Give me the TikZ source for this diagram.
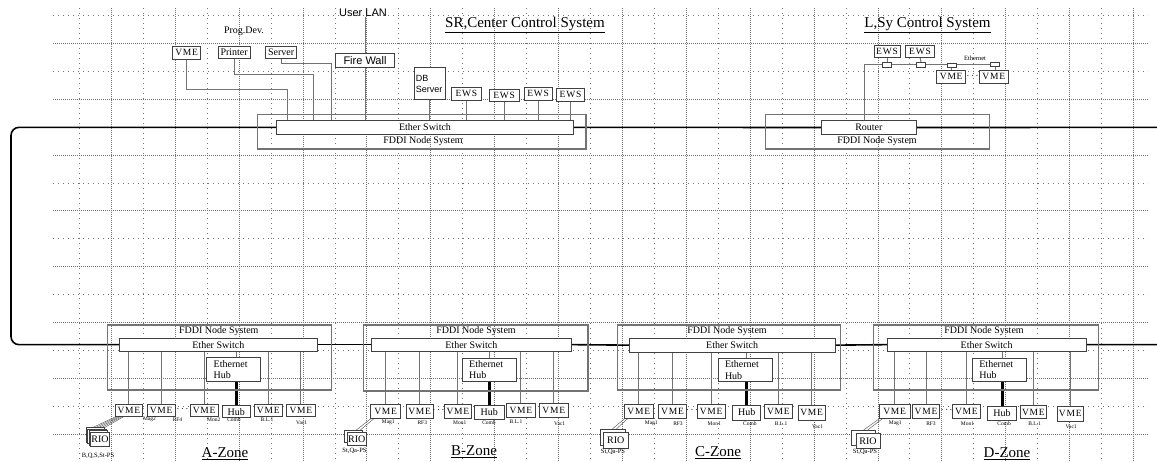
\documentclass[tikz,border=0pt]{standalone}
\usepackage{fontspec}
\setmainfont{Liberation Serif}
\newfontfamily\arialf{Liberation Sans}
\newfontfamily\spf[LetterSpace=8]{Liberation Serif}
\pgfdeclarelayer{gridlayer}
\pgfdeclarelayer{bglayer}
\pgfsetlayers{gridlayer,bglayer,main}
\tikzset{
  box/.style={draw=black!75, fill=white, line width=0.9pt, inner sep=0pt, outer sep=0pt, font=\spf\fontsize{9.5}{10}\selectfont},
  fddibox/.style={draw=black!55, fill=none, line width=1.2pt},
  trx/.style={line width=0.8pt},
  sansbox/.style={font=\arialf\fontsize{11}{12}\selectfont},
  dbbox/.style={font=\arialf\fontsize{9}{11}\selectfont, text width=27.5pt, inner xsep=1.5pt, align=left},
  ehbox/.style={font=\fontsize{10}{11.5}\selectfont, text width=40pt, inner xsep=7pt, align=left},
  plainbox/.style={font=\fontsize{10}{11}\selectfont},
  wire/.style={draw=black!55, line width=1pt},
  thinwire/.style={draw=black!60, line width=0.5pt},
  hubline/.style={draw=black, line width=3pt},
  ring/.style={draw=black, line width=1.6pt},
  lbl/.style={font=\fontsize{10}{11}\selectfont, inner sep=0pt},
  sanslbl/.style={font=\arialf\fontsize{11}{12}\selectfont, inner sep=0pt},
  tinylbl/.style={font=\fontsize{5.5}{6}\selectfont, inner sep=0pt},
  pslbl/.style={font=\fontsize{6.5}{7}\selectfont, inner sep=0pt},
  title/.style={font=\fontsize{15}{16}\selectfont, inner sep=0pt},
  dotsl/.style={font=\fontsize{10}{10}\selectfont, inner sep=0pt},
  gridD/.style={draw=black!55, line width=0.6pt, dash pattern=on 0.7pt off 1.3pt},
  gridS/.style={draw=black!55, line width=0.6pt, dash pattern=on 0.7pt off 4.3pt}
}
\newcommand{\bx}[7]{\node[box,#6,minimum width={(#4)-(#2)},minimum height={(#5)-(#3)}] (#1) at ({((#2)+(#4))/2},{((#3)+(#5))/2}) {#7};}
\begin{document}
\begin{tikzpicture}[x=1pt,y=-1pt]
\useasboundingbox (0,0) rectangle (1157,462);
% ---------- grid ----------
\begin{pgfonlayer}{gridlayer}
\fill[white] (0,0) rectangle (1157,462);
\foreach \k in {1,3,...,15} {\draw[gridD] (53,{15+27.97*\k}) -- (1148,{15+27.97*\k});}
\foreach \k in {0,2,...,14} {\draw[gridS] (53,{15+27.97*\k}) -- (1148,{15+27.97*\k});}
\foreach \i in {1,3,...,33} {\draw[gridD] ({79.3+31.94*\i},8) -- ({79.3+31.94*\i},462);}
\foreach \i in {0,2,...,32} {\draw[gridS] ({79.3+31.94*\i},8) -- ({79.3+31.94*\i},462);}
\end{pgfonlayer}

% ---------- titles ----------
\node[title] (srtitle) at (525,25) {\underline{SR,Center Control System}};
\node[title] (lsytitle) at (927.5,25) {\underline{L,Sy Control System}};

% ---------- SR center ----------
\bx{fddiSR}{257.3}{114.3}{586}{149}{fddibox}{}
\node[lbl] (fddiSRl) at (423,141.5) {FDDI Node System};
\bx{swSR}{276.7}{120.7}{573.3}{134}{plainbox}{Ether Switch}
\bx{vmeT}{172.7}{46}{200.7}{59}{}{VME}
\bx{printer}{218.3}{46}{250}{58.5}{plainbox}{Printer}
\bx{server}{265.7}{46}{296.7}{58.5}{plainbox}{Server}
\node[lbl] (progdev) at (244,31) {Prog.Dev.};
\node[sanslbl] (userlan) at (363,12.5) {User LAN};
\bx{fw}{335.7}{53.3}{394.3}{67.7}{sansbox}{Fire Wall}
\bx{db}{414.3}{67.7}{445}{99.3}{dbbox}{DB\\Server}
\bx{ews1}{451.7}{87.3}{481}{100}{}{EWS}
\bx{ews2}{489}{89}{519.3}{101.5}{}{EWS}
\bx{ews3}{524}{87.3}{552.3}{100}{}{EWS}
\bx{ews4}{556.7}{88}{584.3}{101}{}{EWS}
\begin{pgfonlayer}{bglayer}
\draw[wire] (vmeT.south) |- (287.3,89.3) -- (287.3,89.3 |- swSR.north);
\draw[wire] (printer.south) |- (313.3,74.7) -- (313.3,74.7 |- swSR.north);
\draw[wire] (server.south) |- (331.7,64) -- (331.7,64 |- swSR.north);
\draw[wire] (fw.north |- userlan.south) -- (fw.north);
\draw[wire] (fw.south) -- (fw.south |- swSR.north);
\draw[wire] (db.south) -- (db.south |- swSR.north);
\foreach \n in {ews1,ews2,ews3,ews4} {\draw[wire] (\n.south) -- (\n.south |- swSR.north);}
\end{pgfonlayer}

% ---------- L,Sy ----------
\bx{fddiL}{765.7}{114.3}{989.3}{149}{fddibox}{}
\node[lbl] (fddiLl) at (877,141.5) {FDDI Node System};
\bx{router}{821}{120.7}{916.7}{134.3}{plainbox}{Router}
\bx{ewsL1}{874}{45}{900}{57.3}{}{EWS}
\bx{ewsL2}{905.7}{45}{934.3}{57.3}{}{EWS}
\bx{vmeL1}{936.7}{70}{965.7}{83.3}{}{VME}
\bx{vmeL2}{979.3}{70}{1008.3}{83.3}{}{VME}
\bx{tr1}{882.5}{62}{891.5}{67}{trx}{}
\bx{tr2}{916.5}{62}{925.5}{67}{trx}{}
\bx{tr3}{947}{63}{956}{67.5}{trx}{}
\bx{tr4}{990.5}{62}{999.5}{66.5}{trx}{}
\node[dotsl] (dotsL) at (972.5,76) {$\cdots$};
\node[tinylbl, font=\fontsize{6.5}{7}\selectfont] (ethl) at (975,58.3) {Ethernet};
\begin{pgfonlayer}{bglayer}
\draw[wire] ([xshift=-3.9pt]router.north) |- (tr4.west);
\draw[wire] (ewsL1.south) -- (tr1.north);
\draw[wire] (ewsL2.south) -- (tr2.north);
\draw[wire] (tr3.south) -- (tr3.south |- vmeL1.north);
\draw[wire] (tr4.south) -- (tr4.south |- vmeL2.north);
\end{pgfonlayer}

% ---------- A zone ----------
\bx{fddiA}{107.7}{325}{331.7}{390}{fddibox}{}
\node[lbl] (fddiAl) at (218.8,331.5) {FDDI Node System};
\bx{swA}{119}{338.3}{317.7}{351}{plainbox}{Ether Switch}
\bx{ehA}{206.7}{357.7}{260.7}{381}{ehbox}{Ethernet\\Hub}
\bx{a1}{115}{404.3}{142.7}{416.5}{}{VME}
\bx{a2}{147.3}{404.3}{175}{416.5}{}{VME}
\bx{a3}{190}{404.3}{218.3}{416.5}{}{VME}
\bx{hubA}{222.7}{405.7}{250}{417.7}{plainbox}{Hub}
\bx{a5}{254.3}{404.3}{282.3}{416.5}{}{VME}
\bx{a6}{286.7}{404.3}{315}{416.5}{}{VME}
\node[dotsl] (dotsA) at (182.5,409.5) {$\cdots$};
\node[tinylbl] (la1) at (149.5,419.5) {Mag2};
\node[tinylbl] (la2) at (177.5,419.5) {RF4};
\node[tinylbl] (la3) at (213.7,419.5) {Mon2};
\node[tinylbl] (la4) at (234,419.5) {Comb};
\node[tinylbl] (la5) at (267,419.5) {B.L.1};
\node[tinylbl] (la6) at (301.7,423) {Vac1};
\bx{rioA3}{86.2}{427.8}{104.8}{442.2}{}{}
\bx{rioA2}{87.7}{429.3}{106.3}{443.7}{}{}
\bx{rioA1}{89.2}{430.8}{107.8}{445.2}{}{}
\bx{rioA}{90.7}{432.3}{109.3}{446.7}{plainbox}{RIO}
\node[pslbl] (psA) at (98,455.5) {B,Q,S,St-PS};
\node[title] (zA) at (225,454) {\underline{A-Zone}};
\begin{pgfonlayer}{bglayer}
\foreach \n in {a1,a2,a3,a5,a6} {\draw[wire] (\n.north) -- (\n.north |- swA.south);}
\draw[wire] (hubA.north |- swA.south) -- (hubA.north |- ehA.north);
\draw[hubline] (hubA.north |- ehA.south) -- (hubA.north);
\foreach \i in {0,...,4} {\draw[thinwire] ([xshift={(1+2*\i)*1pt}]a1.south west) -- ([xshift={(6+3*\i)*1pt}]rioA3.north west);}
\end{pgfonlayer}

% ---------- B zone ----------
\bx{fddiB}{363.3}{325}{588}{391}{fddibox}{}
\node[lbl] (fddiBl) at (476,331.5) {FDDI Node System};
\bx{swB}{371}{338.3}{571.7}{351}{plainbox}{Ether Switch}
\bx{ehB}{462.7}{358.3}{515.7}{381}{ehbox}{Ethernet\\Hub}
\bx{b1}{370.7}{404.3}{400.7}{418}{}{VME}
\bx{b2}{406}{404.3}{433.3}{418}{}{VME}
\bx{b3}{444}{404.3}{471.7}{418}{}{VME}
\bx{hubB}{474.7}{405.7}{504}{419}{plainbox}{Hub}
\bx{b5}{506.7}{403}{535}{417}{}{VME}
\bx{b6}{539.3}{403}{568.3}{417}{}{VME}
\node[dotsl] (dotsB) at (438.5,410) {$\cdots$};
\node[tinylbl] (lb1) at (388.3,422.3) {Mag1};
\node[tinylbl] (lb2) at (422.3,422.3) {RF3};
\node[tinylbl] (lb3) at (459.7,422.3) {Mon1};
\node[tinylbl] (lb4) at (489,422.3) {Comb};
\node[tinylbl] (lb5) at (516,421.5) {B.L.1};
\node[tinylbl] (lb6) at (559.7,424) {Vac1};
\bx{rioB1}{344.3}{430}{362.6}{442.3}{}{}
\bx{rioB}{347.7}{432.7}{366}{445}{plainbox}{RIO}
\node[pslbl] (psB) at (354.5,451) {St,Qa-PS};
\node[title] (zB) at (474,452) {\underline{B-Zone}};
\begin{pgfonlayer}{bglayer}
\foreach \n in {b1,b2,b3,b5,b6} {\draw[wire] (\n.north) -- (\n.north |- swB.south);}
\draw[wire] (hubB.north |- swB.south) -- (hubB.north |- ehB.north);
\draw[hubline] (hubB.north |- ehB.south) -- (hubB.north);
\foreach \i in {0,1} {\draw[thinwire] ([xshift={(1+3*\i)*1pt}]b1.south west) -- ([xshift={(12+4*\i)*1pt}]rioB1.north west);}
\end{pgfonlayer}

% ---------- C zone ----------
\bx{fddiC}{617.7}{325}{840.7}{390}{fddibox}{}
\node[lbl] (fddiCl) at (727,331.5) {FDDI Node System};
\bx{swC}{629.3}{338.3}{835}{352}{plainbox}{Ether Switch}
\bx{ehC}{718.3}{358.3}{771.7}{381.7}{ehbox}{Ethernet\\Hub}
\bx{c1}{624.3}{404}{653.3}{418}{}{VME}
\bx{c2}{658.3}{404}{686.7}{418}{}{VME}
\bx{c3}{697.3}{404}{725}{418}{}{VME}
\bx{hubC}{732.7}{405}{760.7}{420}{plainbox}{Hub}
\bx{c5}{764}{404}{792.7}{418}{}{VME}
\bx{c6}{798.3}{405.7}{825}{420}{}{VME}
\node[dotsl] (dotsC) at (692,410) {$\cdots$};
\node[tinylbl] (lc1) at (651.3,423.3) {Mag1};
\node[tinylbl] (lc2) at (678,423.3) {RF3};
\node[tinylbl] (lc3) at (714.2,423.3) {Mon1};
\node[tinylbl] (lc4) at (749.8,423.3) {Comb};
\node[tinylbl] (lc5) at (781.2,423.3) {B.L.1};
\node[tinylbl] (lc6) at (817.5,426.7) {Vac1};
\bx{rioC1}{600}{429.3}{625}{445.3}{}{}
\bx{rioC}{603.3}{432.3}{628.3}{448.3}{plainbox}{RIO}
\node[pslbl] (psC) at (613,451.5) {St,Qa-PS};
\node[title] (zC) at (718,452.5) {\underline{C-Zone}};
\begin{pgfonlayer}{bglayer}
\foreach \n in {c1,c2,c3,c5,c6} {\draw[wire] (\n.north) -- (\n.north |- swC.south);}
\draw[wire] (hubC.north |- swC.south) -- (hubC.north |- ehC.north);
\draw[hubline] (hubC.north |- ehC.south) -- (hubC.north);
\foreach \i in {0,1} {\draw[thinwire] ([xshift={(1+3*\i)*1pt}]c1.south west) -- ([xshift={(12+4*\i)*1pt}]rioC1.north west);}
\end{pgfonlayer}

% ---------- D zone ----------
\bx{fddiD}{873.3}{325}{1098.3}{390}{fddibox}{}
\node[lbl] (fddiDl) at (984,331.5) {FDDI Node System};
\bx{swD}{887.3}{338.3}{1086}{351}{plainbox}{Ether Switch}
\bx{ehD}{972.7}{358.3}{1026}{381}{ehbox}{Ethernet\\Hub}
\bx{d1}{879.3}{404.3}{910}{418}{}{VME}
\bx{d2}{912.7}{404.3}{939.3}{418}{}{VME}
\bx{d3}{952.7}{404.3}{980}{418}{}{VME}
\bx{hubD}{987.3}{406.7}{1016.7}{420}{plainbox}{Hub}
\bx{d5}{1020}{405.7}{1046.7}{418.3}{}{VME}
\bx{d6}{1057.3}{406.7}{1083.3}{421}{}{VME}
\node[dotsl] (dotsD) at (946.7,410) {$\cdots$};
\node[tinylbl] (ld1) at (895.3,423.3) {Mag1};
\node[tinylbl] (ld2) at (931,423.3) {RF3};
\node[tinylbl] (ld3) at (967.5,423.3) {Mon1};
\node[tinylbl] (ld4) at (1004.2,423.3) {Comb};
\node[tinylbl] (ld5) at (1034.7,423.3) {B.L.1};
\node[tinylbl] (ld6) at (1071.2,426.7) {Vac1};
\bx{rioD1}{851.7}{430}{875.7}{445}{}{}
\bx{rioD}{856}{433.3}{880}{448.3}{plainbox}{RIO}
\node[pslbl] (psD) at (865,451.5) {St,Qa-PS};
\node[title] (zD) at (1007,453.5) {\underline{D-Zone}};
\begin{pgfonlayer}{bglayer}
\foreach \n in {d1,d2,d3,d5,d6} {\draw[wire] (\n.north) -- (\n.north |- swD.south);}
\draw[wire] (hubD.north |- swD.south) -- (hubD.north |- ehD.north);
\draw[hubline] (hubD.north |- ehD.south) -- (hubD.north);
\foreach \i in {0,1} {\draw[thinwire] ([xshift={(1+3*\i)*1pt}]d1.south west) -- ([xshift={(12+4*\i)*1pt}]rioD1.north west);}
\end{pgfonlayer}

% ---------- FDDI ring ----------
\coordinate (ringL) at (11,235);
\coordinate (ringTR) at (1157,127.4);
\coordinate (ringBR) at (1157,344.7);
\begin{pgfonlayer}{bglayer}
\draw[ring, rounded corners=8pt] (swSR.west) -| (ringL) |- (swA.west);
\draw[ring] (swSR.east) -- (router.west);
\draw[ring] (router.east) -- (ringTR);
\draw[ring] (swA.east) -- (swB.west);
\draw[ring] (swB.east) -- (swC.west);
\draw[ring] (swC.east) -- (swD.west);
\draw[ring] (swD.east) -- (ringBR);
\end{pgfonlayer}
\end{tikzpicture}
\end{document}
